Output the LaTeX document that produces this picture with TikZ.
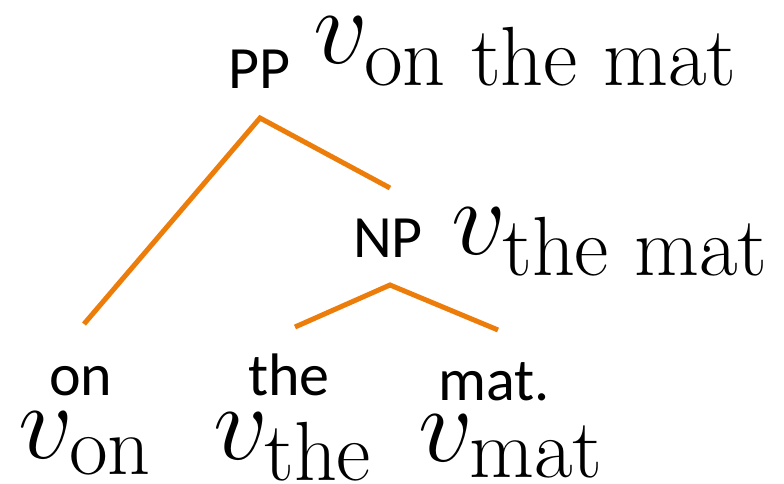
\RequirePackage{fix-cm}
\documentclass[tikz,border=0pt]{standalone}
\usepackage{amsmath}
\usepackage{fontspec}
\newfontfamily\catfont{Carlito}
\newcommand{\vsub}[1]{$v_{\text{\fontsize{84}{92}\selectfont #1}}$}
\definecolor{treeorange}{RGB}{237,125,10}
\usetikzlibrary{positioning}

\begin{document}
\begin{tikzpicture}[x=1pt, y=-1pt,
    branch/.style={treeorange, line width=5pt},
    cat/.style={font=\catfont\fontsize{60}{66}\selectfont, inner sep=0pt, anchor=base west},
    vec/.style={font=\fontsize{108}{120}\selectfont, inner sep=0pt, anchor=base west}]
    \useasboundingbox (0,0) rectangle (784,484);

    % Nhãn các nút trong
    \node[cat] (PP) at (228,89) {PP};
    \node[vec] (vPP) at (313,64) {\vsub{on the mat}};
    \node[cat] (NP) at (353,257) {NP};
    \node[vec] (vNP) at (451,254) {\vsub{the mat}};

    % Các từ ở lá
    \node[cat] (on) at (49,395) {on};
    \node[cat] (the) at (248,395) {the};
    \node[cat] (mat) at (438,400) {mat.};
    \node[vec] (von) at (18,458) {\vsub{on}};
    \node[vec] (vthe) at (213,459) {\vsub{the}};
    \node[vec] (vmat) at (418,461) {\vsub{mat}};

    % Các nhánh
    \coordinate (pp) at (260,118);
    \coordinate (ppL) at (84,324);
    \coordinate (ppR) at (390,188);
    \coordinate (np) at (390,285);
    \coordinate (npL) at (295,327);
    \coordinate (npR) at (498,330);
    \draw[branch] (ppL) -- (pp) -- (ppR);
    \draw[branch] (npL) -- (np) -- (npR);
\end{tikzpicture}
\end{document}
